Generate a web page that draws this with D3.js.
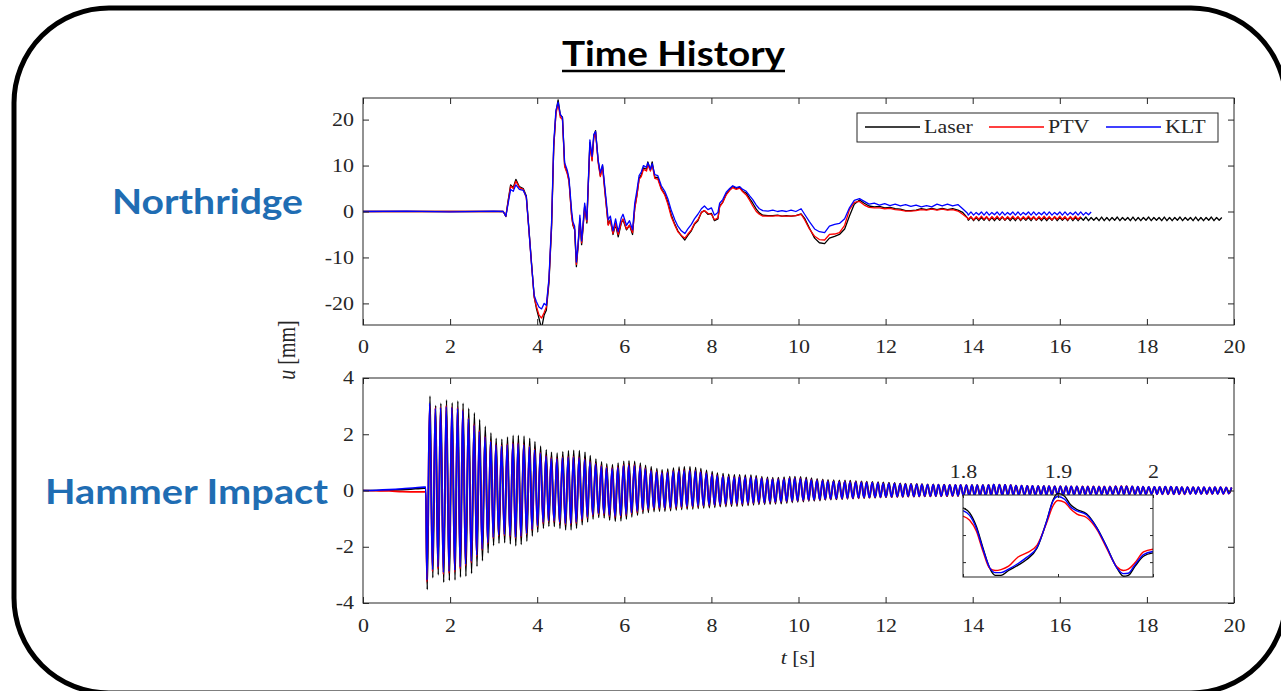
<!DOCTYPE html>
<html>
<head>
<meta charset="utf-8">
<script src="https://cdn.jsdelivr.net/npm/d3@7"></script>
<style>
  body { margin: 0; background: #fff; }
  svg { display: block; }
</style>
</head>
<body>
<svg id="chart" width="1281" height="691"></svg>
<script>
// ---------- Northridge (top panel) ----------
var ndTime = [
  0, 1, 2, 3, 3.22, 3.28, 3.33, 3.39, 3.45, 3.51,
  3.59, 3.68, 3.75, 3.81, 3.87, 3.93, 3.98, 4.04, 4.10, 4.16,
  4.21, 4.27, 4.33, 4.38, 4.43, 4.48, 4.53, 4.58, 4.63, 4.69,
  4.73, 4.79, 4.82, 4.86, 4.90, 4.94, 4.98, 5.02, 5.05, 5.09,
  5.14, 5.21, 5.26, 5.30, 5.34, 5.40, 5.45, 5.50, 5.55, 5.63,
  5.68, 5.74, 5.80, 5.86, 5.93, 5.97, 6.05, 6.12, 6.19, 6.24,
  6.29, 6.34, 6.39, 6.44, 6.51, 6.54, 6.60, 6.64, 6.70, 6.77,
  6.85, 6.93, 7.00, 7.08, 7.16, 7.23, 7.31, 7.39, 7.46, 7.54,
  7.61, 7.69, 7.77, 7.84, 7.92, 8.00, 8.07, 8.15, 8.19, 8.26,
  8.34, 8.42, 8.49, 8.57, 8.65, 8.72, 8.80, 8.88, 8.95, 9.03,
  9.10, 9.18, 9.30, 9.41, 9.52, 9.62, 9.72, 9.83, 9.94, 10.06,
  10.14, 10.25, 10.37, 10.48, 10.60, 10.71, 10.83, 10.94, 11.06, 11.17,
  11.28, 11.40, 11.51, 11.62, 11.74, 11.86, 11.98, 12.10, 12.22, 12.34,
  12.46, 12.58, 12.70, 12.82, 12.94, 13.06, 13.18, 13.30, 13.42, 13.54,
  13.66, 13.77, 13.88
];
var ndLaser = [
  0, 0, 0, 0, 0, -1.1, 2.2, 5.8, 5.2, 7.0,
  5.4, 5.0, 3.4, -3.8, -11.2, -18.5, -21.0, -23.2, -25.5, -22.5,
  -21.5, -15.5, -3.6, 14.0, 21.5, 24.3, 21.0, 20.5, 10.0, 8.5,
  6.8, -0.8, -3.0, -4.0, -12.0, -7.5, -1.8, -7.2, -4.0, 1.2,
  -2.5, 15.0, 11.2, 16.5, 17.6, 11.0, 7.8, 10.0, 5.0, -2.8,
  -1.8, -5.0, -2.8, -5.5, -2.5, -1.8, -4.0, -3.0, -5.0, 0.8,
  3.6, 7.2, 8.0, 9.5, 9.2, 10.8, 9.0, 10.8, 7.4, 7.4,
  5.0, 3.8, 2.0, -0.8, -2.8, -4.2, -5.3, -6.2, -5.2, -4.2,
  -2.8, -2.0, -0.2, 0.2, -0.6, -0.4, -2.0, -1.6, 1.2, 2.0,
  3.8, 4.7, 5.4, 5.0, 5.3, 4.4, 4.0, 2.8, 1.8, 0.5,
  -0.3, -0.8, -0.9, -0.9, -0.8, -1.0, -0.9, -1.0, -0.9, -0.5,
  -1.5, -3.6, -5.8, -6.8, -7.0, -5.8, -5.4, -5.0, -3.8, -1.0,
  1.6, 2.5, 1.8, 1.2, 1.0, 1.1, 0.8, 0.9, 0.6, 0.5,
  0.2, 0.2, 0.3, 0.6, 0.4, 0.7, 0.4, 0.7, 0.4, 0.6,
  0.3, -0.2, -1.4
];
var ndPtv = [
  0, 0, 0, 0, 0, -1.0, 2.0, 5.5, 5.0, 6.6,
  5.2, 4.8, 3.0, -4.2, -11.5, -18.6, -20.6, -22.5, -23.2, -22.0,
  -20.8, -15.0, -3.0, 14.2, 21.2, 23.5, 20.5, 20.0, 9.8, 8.2,
  6.5, -1.0, -2.8, -3.8, -11.5, -7.2, -1.5, -6.8, -3.6, 1.0,
  -2.2, 14.6, 11.0, 16.0, 17.2, 10.6, 7.6, 9.6, 4.6, -3.0,
  -2.0, -4.8, -2.6, -5.0, -2.4, -1.6, -3.8, -3.0, -4.6, 0.6,
  3.4, 7.0, 7.6, 9.2, 8.8, 10.2, 8.8, 10.2, 7.2, 7.0,
  4.8, 3.6, 1.6, -1.2, -3.0, -4.4, -5.2, -5.8, -4.9, -4.0,
  -2.6, -1.8, -0.2, 0.2, -0.4, -0.6, -1.8, -1.4, 1.0, 2.0,
  3.6, 4.6, 5.2, 4.8, 5.1, 4.3, 3.6, 2.4, 1.2, 0.0,
  -0.6, -1.0, -1.0, -1.0, -0.9, -1.0, -1.0, -1.0, -0.9, -0.6,
  -1.8, -3.8, -5.4, -6.1, -6.2, -5.0, -4.9, -4.6, -3.0, 0.4,
  2.0, 2.2, 1.4, 0.9, 0.8, 0.8, 0.6, 0.7, 0.4, 0.3,
  0.1, 0.1, 0.2, 0.4, 0.3, 0.5, 0.3, 0.5, 0.3, 0.4,
  0.1, -0.6, -1.4
];
var ndKlt = [
  0, 0.1, -0.1, 0.1, 0, -1.0, 1.6, 4.8, 4.4, 5.8,
  4.8, 4.6, 3.2, -4.0, -11.6, -18.2, -19.6, -20.8, -21.2, -20.0,
  -20.4, -14.6, -2.4, 15.0, 22.0, 23.8, 21.2, 20.4, 10.6, 9.0,
  7.2, 0.2, -2.2, -3.2, -11.0, -7.0, -0.8, -6.4, -3.0, 1.8,
  -1.8, 15.6, 12.0, 16.8, 17.4, 11.2, 8.4, 10.2, 5.6, -1.8,
  -1.0, -4.2, -1.6, -4.4, -1.4, -0.6, -3.0, -2.0, -4.0, 1.8,
  4.6, 7.8, 8.6, 10.0, 9.6, 10.6, 9.2, 10.4, 8.0, 7.8,
  5.6, 4.4, 2.8, 0.2, -1.8, -3.2, -4.2, -4.8, -3.8, -2.8,
  -1.6, -0.6, 0.6, 1.2, 0.4, 0.8, -0.8, -0.2, 1.8, 2.6,
  4.2, 5.0, 5.6, 5.2, 5.4, 4.8, 4.4, 3.4, 2.6, 1.4,
  0.6, 0.2, 0.1, 0.3, 0.0, 0.2, 0.0, 0.3, 0.0, 0.6,
  -0.6, -2.2, -3.8, -4.4, -4.6, -3.2, -2.8, -2.6, -1.6, 0.8,
  2.4, 2.8, 2.2, 1.6, 1.8, 1.4, 1.7, 1.3, 1.6, 1.2,
  1.5, 1.1, 1.4, 1.0, 1.3, 1.0, 1.6, 1.2, 1.6, 1.2,
  1.5, 0.6, -0.4
];

// residual ripple after 14 s: crest times, then crest / trough values per cycle
var ndTailT = [
  13.96, 14.08, 14.20, 14.32, 14.44, 14.56, 14.68, 14.80, 14.92, 15.04,
  15.16, 15.28, 15.40, 15.52, 15.64, 15.76, 15.88, 16.00, 16.12, 16.24,
  16.36, 16.48, 16.60, 16.72, 16.84, 16.96, 17.08, 17.20, 17.32, 17.44,
  17.56, 17.68, 17.80, 17.92, 18.04, 18.16, 18.28, 18.40, 18.52, 18.64,
  18.76, 18.88, 19.00, 19.12, 19.24, 19.36, 19.48, 19.60, 19.72
];
var ndTailLaserHi = [
  -1.2, -1.3, -1.3, -1.2, -1.3, -1.3, -1.2, -1.3, -1.3, -1.2,
  -1.3, -1.3, -1.2, -1.3, -1.3, -1.3, -1.2, -1.3, -1.3, -1.2,
  -1.3, -1.3, -1.2, -1.3, -1.3, -1.2, -1.3, -1.3, -1.2, -1.3,
  -1.3, -1.2, -1.3, -1.3, -1.2, -1.3, -1.3, -1.2, -1.3, -1.3,
  -1.2, -1.3, -1.3, -1.2, -1.3, -1.3, -1.2, -1.3, -1.3
];
var ndTailLaserLo = [
  -1.9, -2.0, -2.0, -1.9, -2.0, -2.0, -1.9, -1.9, -2.0, -2.0,
  -2.0, -1.9, -2.0, -1.9, -2.0, -2.0, -1.9, -2.0, -1.9, -2.0,
  -2.0, -2.0, -1.9, -2.0, -1.9, -2.0, -2.0, -2.0, -1.9, -2.0,
  -1.9, -2.0, -2.0, -2.0, -1.9, -2.0, -1.9, -2.0, -2.0, -2.0,
  -1.9, -2.0, -1.9, -2.0, -2.0, -2.0, -1.9, -2.0, -1.9
];
var ndTailPtvHi = [
  -1.1, -1.1, -1.0, -1.1, -1.1, -1.0, -1.1, -1.1, -1.0, -1.1,
  -1.1, -1.0, -1.1, -1.1, -1.0, -1.1, -1.1, -1.0, -1.1, -1.1,
  -1.0, -1.1
];
var ndTailPtvLo = [
  -1.7, -1.8, -1.7, -1.7, -1.8, -1.7, -1.7, -1.8, -1.7, -1.7,
  -1.8, -1.7, -1.7, -1.8, -1.7, -1.7, -1.8, -1.7, -1.7, -1.8,
  -1.7, -1.7
];
var ndTailKltHi = [
  -0.1, -0.2, -0.1, -0.1, -0.2, -0.1, -0.1, -0.2, -0.1, -0.1,
  -0.2, -0.1, -0.1, -0.2, -0.1, -0.1, -0.2, -0.1, -0.1, -0.2,
  -0.1, -0.1, -0.2, -0.1
];
var ndTailKltLo = [
  -0.8, -0.8, -0.7, -0.8, -0.8, -0.7, -0.8, -0.8, -0.7, -0.8,
  -0.8, -0.7, -0.8, -0.8, -0.7, -0.8, -0.8, -0.7, -0.8, -0.8,
  -0.7, -0.8, -0.8, -0.7
];

// ---------- Hammer impact (bottom panel) ----------
var hmPreT      = [0, 0.3, 0.6, 0.9, 1.2, 1.40, 1.44];
var hmPreLaser  = [0, 0, 0.01, 0.03, 0.06, 0.08, 0.08];
var hmPrePtv    = [0, -0.01, -0.02, -0.04, -0.05, -0.05, -0.04];
var hmPreKlt    = [0, 0.01, 0.03, 0.06, 0.10, 0.12, 0.12];

// crest time of each cycle; trough values are the ones just before each crest
var hmPeakT = [
  1.53, 1.66, 1.78, 1.91, 2.04, 2.17, 2.29, 2.42, 2.55, 2.67,
  2.80, 2.93, 3.05, 3.18, 3.31, 3.44, 3.56, 3.69, 3.82, 3.94,
  4.07, 4.20, 4.32, 4.45, 4.58, 4.71, 4.83, 4.96, 5.09, 5.21,
  5.34, 5.47, 5.59, 5.72, 5.85, 5.98, 6.10, 6.23, 6.36, 6.48,
  6.61, 6.74, 6.86, 6.99, 7.12, 7.25, 7.37, 7.50, 7.63, 7.75,
  7.88, 8.01, 8.13, 8.26, 8.39, 8.52, 8.64, 8.77, 8.90, 9.02,
  9.15, 9.28, 9.40, 9.53, 9.66, 9.79, 9.91, 10.04, 10.17, 10.29,
  10.42, 10.55, 10.67, 10.80, 10.93, 11.06, 11.18, 11.31, 11.44, 11.56,
  11.69, 11.82, 11.94, 12.07, 12.20, 12.33, 12.45, 12.58, 12.71, 12.83,
  12.96, 13.09, 13.21, 13.34, 13.47, 13.60, 13.72, 13.85, 13.98, 14.10,
  14.23, 14.36, 14.48, 14.61, 14.74, 14.87, 14.99, 15.12, 15.25, 15.37,
  15.50, 15.63, 15.75, 15.88, 16.01, 16.14, 16.26, 16.39, 16.52, 16.64,
  16.77, 16.90, 17.02, 17.15, 17.28, 17.41, 17.53, 17.66, 17.79, 17.91,
  18.04, 18.17, 18.29, 18.42, 18.55, 18.68, 18.80, 18.93, 19.06, 19.18,
  19.31, 19.44, 19.56, 19.69, 19.82, 19.94
];
var hmLaserHi = [
  3.36, 3.02, 3.10, 3.22, 3.12, 3.18, 3.10, 2.92, 2.76, 2.52,
  2.28, 2.05, 1.86, 1.82, 1.90, 1.96, 1.96, 1.94, 1.86, 1.74,
  1.58, 1.45, 1.36, 1.33, 1.38, 1.42, 1.43, 1.42, 1.36, 1.24,
  1.12, 1.02, 0.95, 0.92, 0.98, 1.04, 1.06, 1.04, 0.98, 0.90,
  0.84, 0.78, 0.74, 0.76, 0.80, 0.83, 0.84, 0.84, 0.82, 0.78,
  0.72, 0.67, 0.62, 0.60, 0.58, 0.56, 0.56, 0.55, 0.55, 0.53,
  0.50, 0.48, 0.46, 0.46, 0.48, 0.50, 0.50, 0.49, 0.47, 0.44,
  0.42, 0.40, 0.38, 0.37, 0.36, 0.36, 0.35, 0.34, 0.33, 0.32,
  0.31, 0.30, 0.29, 0.28, 0.27, 0.26, 0.25, 0.24, 0.24, 0.23,
  0.22, 0.22, 0.21, 0.21, 0.20, 0.20, 0.20, 0.19, 0.19, 0.19,
  0.19, 0.20, 0.21, 0.21, 0.20, 0.19, 0.18, 0.17, 0.17, 0.16,
  0.16, 0.16, 0.15, 0.15, 0.15, 0.15, 0.14, 0.14, 0.14, 0.14,
  0.14, 0.13, 0.13, 0.13, 0.14, 0.15, 0.15, 0.14, 0.13, 0.12,
  0.12, 0.12, 0.12, 0.13, 0.13, 0.12, 0.11, 0.11, 0.11, 0.10,
  0.10, 0.10, 0.11, 0.11, 0.10, 0.10
];
var hmLaserLo = [
  -3.52, -3.10, -3.00, -3.26, -3.20, -3.18, -3.08, -3.05, -2.95, -2.70,
  -2.50, -2.22, -1.96, -1.88, -1.86, -1.90, -1.97, -1.92, -1.80, -1.62,
  -1.48, -1.34, -1.27, -1.28, -1.35, -1.40, -1.40, -1.34, -1.22, -1.12,
  -1.02, -0.96, -0.98, -1.06, -1.10, -1.08, -1.02, -0.94, -0.88, -0.82,
  -0.78, -0.75, -0.74, -0.74, -0.72, -0.70, -0.68, -0.67, -0.66, -0.64,
  -0.62, -0.61, -0.60, -0.58, -0.57, -0.56, -0.56, -0.55, -0.53, -0.51,
  -0.50, -0.50, -0.49, -0.48, -0.47, -0.45, -0.43, -0.41, -0.40, -0.38,
  -0.37, -0.36, -0.34, -0.33, -0.32, -0.31, -0.30, -0.29, -0.28, -0.27,
  -0.26, -0.26, -0.25, -0.24, -0.24, -0.23, -0.23, -0.22, -0.22, -0.21,
  -0.21, -0.21, -0.20, -0.20, -0.20, -0.19, -0.19, -0.19, -0.18, -0.18,
  -0.18, -0.18, -0.17, -0.17, -0.17, -0.17, -0.16, -0.16, -0.16, -0.16,
  -0.16, -0.15, -0.15, -0.15, -0.15, -0.15, -0.15, -0.14, -0.14, -0.14,
  -0.14, -0.14, -0.14, -0.14, -0.13, -0.13, -0.13, -0.13, -0.13, -0.13,
  -0.13, -0.12, -0.12, -0.12, -0.12, -0.12, -0.12, -0.12, -0.11, -0.11,
  -0.11, -0.11, -0.11, -0.11, -0.10, -0.10
];
var hmPtvHi = [
  3.05, 2.95, 2.98, 3.02, 2.97, 2.95, 2.86, 2.58, 2.36, 2.14,
  1.93, 1.77, 1.65, 1.61, 1.65, 1.69, 1.69, 1.65, 1.58, 1.47,
  1.35, 1.25, 1.17, 1.15, 1.19, 1.21, 1.21, 1.19, 1.13, 1.05,
  0.97, 0.89, 0.83, 0.81, 0.85, 0.91, 0.93, 0.91, 0.86, 0.79,
  0.72, 0.68, 0.65, 0.66, 0.70, 0.72, 0.73, 0.73, 0.71, 0.68,
  0.62, 0.58, 0.54, 0.52, 0.50, 0.49, 0.49, 0.48, 0.48, 0.46,
  0.44, 0.42, 0.41, 0.41, 0.42, 0.44, 0.44, 0.43, 0.41, 0.39,
  0.37, 0.36, 0.34, 0.33, 0.32, 0.32, 0.31, 0.31, 0.30, 0.29,
  0.28, 0.27, 0.26, 0.25, 0.25, 0.24, 0.23, 0.23, 0.22, 0.22,
  0.21, 0.21, 0.21, 0.20, 0.20, 0.20, 0.20, 0.19, 0.19, 0.19,
  0.19, 0.20, 0.21, 0.21, 0.20, 0.19, 0.18, 0.18, 0.17, 0.17,
  0.16, 0.16, 0.16, 0.15, 0.15, 0.15, 0.15, 0.15, 0.15, 0.15,
  0.15, 0.15, 0.15, 0.15, 0.16, 0.16, 0.16, 0.15, 0.14, 0.14,
  0.13, 0.13, 0.13, 0.14, 0.14, 0.13, 0.12, 0.12, 0.12, 0.12,
  0.12, 0.11, 0.12, 0.12, 0.11, 0.11
];
var hmPtvLo = [
  -3.25, -2.88, -2.78, -2.98, -2.94, -2.90, -2.78, -2.68, -2.57, -2.35,
  -2.12, -1.90, -1.70, -1.62, -1.60, -1.64, -1.70, -1.66, -1.56, -1.42,
  -1.29, -1.17, -1.11, -1.12, -1.17, -1.21, -1.21, -1.16, -1.07, -0.98,
  -0.90, -0.85, -0.86, -0.92, -0.96, -0.94, -0.89, -0.83, -0.78, -0.73,
  -0.69, -0.66, -0.65, -0.65, -0.64, -0.62, -0.61, -0.60, -0.59, -0.58,
  -0.55, -0.54, -0.53, -0.52, -0.51, -0.50, -0.50, -0.49, -0.48, -0.46,
  -0.45, -0.44, -0.43, -0.43, -0.42, -0.40, -0.39, -0.37, -0.36, -0.35,
  -0.34, -0.33, -0.32, -0.31, -0.30, -0.29, -0.28, -0.28, -0.27, -0.26,
  -0.26, -0.25, -0.25, -0.24, -0.24, -0.23, -0.23, -0.22, -0.22, -0.22,
  -0.21, -0.21, -0.21, -0.21, -0.20, -0.20, -0.20, -0.20, -0.19, -0.19,
  -0.19, -0.19, -0.19, -0.18, -0.18, -0.18, -0.18, -0.18, -0.17, -0.17,
  -0.17, -0.17, -0.17, -0.16, -0.16, -0.16, -0.16, -0.16, -0.16, -0.16,
  -0.16, -0.15, -0.15, -0.15, -0.15, -0.15, -0.15, -0.15, -0.15, -0.15,
  -0.15, -0.14, -0.14, -0.14, -0.14, -0.14, -0.14, -0.14, -0.13, -0.13,
  -0.13, -0.13, -0.13, -0.13, -0.13, -0.12
];
var hmKltHi = [
  3.10, 2.92, 2.95, 2.98, 2.95, 2.92, 2.84, 2.55, 2.32, 2.10,
  1.90, 1.74, 1.62, 1.58, 1.62, 1.66, 1.66, 1.62, 1.55, 1.44,
  1.32, 1.22, 1.14, 1.12, 1.16, 1.18, 1.18, 1.16, 1.10, 1.02,
  0.94, 0.86, 0.80, 0.78, 0.82, 0.88, 0.90, 0.88, 0.83, 0.76,
  0.70, 0.66, 0.63, 0.64, 0.68, 0.70, 0.71, 0.71, 0.69, 0.66,
  0.61, 0.57, 0.53, 0.51, 0.49, 0.48, 0.48, 0.47, 0.47, 0.45,
  0.43, 0.41, 0.40, 0.40, 0.41, 0.43, 0.43, 0.42, 0.40, 0.38,
  0.36, 0.35, 0.33, 0.32, 0.31, 0.31, 0.30, 0.30, 0.29, 0.28,
  0.28, 0.27, 0.26, 0.25, 0.25, 0.24, 0.23, 0.23, 0.22, 0.22,
  0.21, 0.21, 0.21, 0.20, 0.20, 0.20, 0.20, 0.19, 0.19, 0.19,
  0.19, 0.20, 0.22, 0.21, 0.20, 0.19, 0.18, 0.18, 0.17, 0.17,
  0.16, 0.16, 0.16, 0.15, 0.15, 0.15, 0.15, 0.15, 0.14, 0.14,
  0.14, 0.14, 0.14, 0.14, 0.15, 0.15, 0.15, 0.15, 0.14, 0.14,
  0.13, 0.13, 0.13, 0.14, 0.14, 0.13, 0.12, 0.12, 0.12, 0.12,
  0.12, 0.11, 0.12, 0.12, 0.11, 0.11
];
var hmKltLo = [
  -3.18, -2.82, -2.72, -2.92, -2.88, -2.84, -2.72, -2.62, -2.52, -2.30,
  -2.08, -1.86, -1.66, -1.58, -1.56, -1.60, -1.66, -1.62, -1.52, -1.38,
  -1.25, -1.13, -1.07, -1.08, -1.13, -1.17, -1.17, -1.12, -1.03, -0.94,
  -0.86, -0.81, -0.82, -0.88, -0.92, -0.90, -0.85, -0.79, -0.74, -0.69,
  -0.66, -0.63, -0.62, -0.62, -0.61, -0.59, -0.58, -0.57, -0.56, -0.55,
  -0.53, -0.52, -0.51, -0.50, -0.49, -0.48, -0.48, -0.47, -0.46, -0.44,
  -0.43, -0.43, -0.42, -0.42, -0.41, -0.39, -0.38, -0.36, -0.35, -0.34,
  -0.33, -0.32, -0.31, -0.30, -0.29, -0.28, -0.27, -0.27, -0.26, -0.25,
  -0.25, -0.24, -0.24, -0.23, -0.23, -0.22, -0.22, -0.21, -0.21, -0.21,
  -0.20, -0.20, -0.20, -0.20, -0.19, -0.19, -0.19, -0.19, -0.18, -0.18,
  -0.18, -0.18, -0.18, -0.17, -0.17, -0.17, -0.17, -0.17, -0.16, -0.16,
  -0.16, -0.16, -0.16, -0.15, -0.15, -0.15, -0.15, -0.15, -0.15, -0.15,
  -0.15, -0.14, -0.14, -0.14, -0.14, -0.14, -0.14, -0.14, -0.14, -0.14,
  -0.14, -0.13, -0.13, -0.13, -0.13, -0.13, -0.13, -0.13, -0.12, -0.12,
  -0.12, -0.12, -0.12, -0.12, -0.12, -0.11
];
var hmLaserLag = 0.008;

// zoomed inset, 1.8 - 2.0 s
var insetT = [
  1.800, 1.807, 1.814, 1.821, 1.828, 1.834, 1.840, 1.848, 1.858, 1.867,
  1.878, 1.888, 1.895, 1.900, 1.907, 1.913, 1.920, 1.930, 1.941, 1.951,
  1.962, 1.969, 1.974, 1.981, 1.990, 2.000
];
var insetLaser = [
  2.01, 1.64, 0.65, -0.95, -2.43, -2.98, -2.98, -2.62, -2.22, -1.81,
  -0.95, 1.02, 2.63, 3.08, 2.87, 2.26, 1.89, 1.57, 0.53, -0.83,
  -2.43, -3.05, -2.98, -2.31, -1.57, -1.32
];
var insetPtv = [
  1.40, 1.10, 0.30, -1.20, -2.45, -2.62, -2.55, -2.30, -1.62, -1.32,
  -0.75, 0.90, 2.20, 2.55, 2.42, 1.95, 1.55, 1.30, 0.40, -0.95,
  -2.35, -2.62, -2.52, -2.05, -1.25, -1.05
];
var insetKlt = [
  1.80, 1.45, 0.50, -1.05, -2.40, -2.78, -2.78, -2.52, -2.10, -1.65,
  -0.90, 1.00, 2.55, 2.85, 2.65, 2.10, 1.78, 1.50, 0.50, -0.85,
  -2.42, -2.85, -2.82, -2.20, -1.45, -1.22
];

var seriesNames = ["Laser", "PTV", "KLT"];
var seriesColors = ["#000000", "#ff0000", "#0000ff"];
var xTicks = [0, 2, 4, 6, 8, 10, 12, 14, 16, 18, 20];
var topYTicks = [-20, -10, 0, 10, 20];
var botYTicks = [-4, -2, 0, 2, 4];
var insetXTicks = [1.8, 1.9, 2];
var insetYTicks = [-2, 0, 2];

// ---------- layout ----------
var svg = d3.select("#chart");
var axisColor = "#262626";
var serif = "'Liberation Serif', 'Times New Roman', serif";
var stretch = 1.22;
var titleBlue = "#1f6db3";
var sans = "Lato, 'Open Sans', sans-serif";

var xScale = d3.scaleLinear().domain([0, 20]).range([363, 1234]);
var yTop = d3.scaleLinear().domain([-24.7, 24.7]).range([325, 98]);
var yBot = d3.scaleLinear().domain([-4, 4]).range([603, 378]);
var xIn = d3.scaleLinear().domain([1.8, 2.0]).range([963, 1153]);
var yIn = d3.scaleLinear().domain([-3.1, 2.96]).range([577, 495]);

svg.append("rect")
  .attr("width", 1281).attr("height", 691).attr("fill", "#fff");

// rounded frame
svg.append("rect")
  .attr("x", 14).attr("y", 8)
  .attr("width", 1272).attr("height", 685)
  .attr("rx", 95)
  .attr("fill", "none")
  .attr("stroke", "#000")
  .attr("stroke-width", 5);

// headings
svg.append("text")
  .attr("x", 562).attr("y", 66)
  .attr("font-family", sans)
  .attr("font-weight", "bold")
  .attr("font-size", 34)
  .attr("textLength", 223)
  .attr("lengthAdjust", "spacingAndGlyphs")
  .text("Time History");
svg.append("line")
  .attr("x1", 562).attr("x2", 785)
  .attr("y1", 71).attr("y2", 71)
  .attr("stroke", "#000").attr("stroke-width", 2.5);

svg.append("text")
  .attr("x", 112).attr("y", 214)
  .attr("font-family", sans)
  .attr("font-weight", "bold")
  .attr("font-size", 35)
  .attr("fill", titleBlue)
  .attr("textLength", 191)
  .attr("lengthAdjust", "spacingAndGlyphs")
  .text("Northridge");

svg.append("text")
  .attr("x", 45).attr("y", 504)
  .attr("font-family", sans)
  .attr("font-weight", "bold")
  .attr("font-size", 35)
  .attr("fill", titleBlue)
  .attr("textLength", 283)
  .attr("lengthAdjust", "spacingAndGlyphs")
  .text("Hammer Impact");

// clip regions
var defs = svg.append("defs");
function addClip(id, y) {
  defs.append("clipPath").attr("id", id)
    .append("rect")
    .attr("x", xScale.range()[0]).attr("y", y.range()[1])
    .attr("width", xScale.range()[1] - xScale.range()[0])
    .attr("height", y.range()[0] - y.range()[1]);
}
addClip("clipTop", yTop);
addClip("clipBot", yBot);

function styleAxis(g) {
  g.select(".domain").remove();
  g.selectAll(".tick line").attr("stroke", axisColor);
  g.selectAll("text")
    .attr("fill", axisColor)
    .attr("font-family", serif)
    .attr("font-size", 18);
}

function drawAxes(y, yTicks, xPad) {
  var top = y.range()[1], bottom = y.range()[0];
  var left = xScale.range()[0], right = xScale.range()[1];
  var fmt = function(d) { return String(d); };

  svg.append("g")
    .attr("transform", `translate(0, ${bottom})`)
    .call(d3.axisBottom(xScale).tickValues(xTicks).tickSizeInner(-6)
      .tickSizeOuter(0).tickPadding(xPad).tickFormat(fmt))
    .call(styleAxis)
    .selectAll("text").attr("transform", `scale(${stretch},1)`);

  svg.append("g")
    .attr("transform", `translate(0, ${top})`)
    .call(d3.axisTop(xScale).tickValues(xTicks).tickSizeInner(-6)
      .tickSizeOuter(0).tickFormat(""))
    .call(styleAxis);

  svg.append("g")
    .attr("transform", `translate(${left}, 0)`)
    .call(d3.axisLeft(y).tickValues(yTicks).tickSizeInner(-6)
      .tickSizeOuter(0).tickFormat(fmt))
    .call(styleAxis)
    .selectAll("text")
      .attr("x", -9 / stretch)
      .attr("transform", `scale(${stretch},1)`);

  svg.append("g")
    .attr("transform", `translate(${right}, 0)`)
    .call(d3.axisRight(y).tickValues(yTicks).tickSizeInner(-6)
      .tickSizeOuter(0).tickFormat(""))
    .call(styleAxis);

  svg.append("rect")
    .attr("x", left).attr("y", top)
    .attr("width", right - left).attr("height", bottom - top)
    .attr("fill", "none")
    .attr("stroke", axisColor)
    .attr("stroke-width", 1);
}

// ---------- top panel ----------
function ndPoints(vals, hi, lo) {
  var pts = ndTime.map(function(t, i) { return [t, vals[i]]; });
  hi.forEach(function(h, k) {
    pts.push([ndTailT[k] - 0.06, lo[k]]);
    pts.push([ndTailT[k], h]);
  });
  return pts;
}

var ndSeries = [
  {name: "Laser", pts: ndPoints(ndLaser, ndTailLaserHi, ndTailLaserLo)},
  {name: "PTV", pts: ndPoints(ndPtv, ndTailPtvHi, ndTailPtvLo)},
  {name: "KLT", pts: ndPoints(ndKlt, ndTailKltHi, ndTailKltLo)}
];
var colorOf = d3.scaleOrdinal().domain(seriesNames).range(seriesColors);

var ndLine = d3.line()
  .x(d => xScale(d[0]))
  .y(d => yTop(d[1]));

svg.append("g")
  .attr("clip-path", "url(#clipTop)")
  .selectAll("path")
  .data(ndSeries)
  .enter()
  .append("path")
    .attr("d", d => ndLine(d.pts))
    .attr("fill", "none")
    .attr("stroke", d => colorOf(d.name))
    .attr("stroke-width", 1.3)
    .attr("stroke-linejoin", "round");

drawAxes(yTop, topYTicks, 15);

// legend
svg.append("rect")
  .attr("x", 857).attr("y", 113)
  .attr("width", 361).attr("height", 29)
  .attr("fill", "#fff")
  .attr("stroke", axisColor)
  .attr("stroke-width", 1);

var legendX = d3.scaleOrdinal().domain(seriesNames).range([865, 989, 1106]);
var legend = svg.selectAll(".legend-item")
  .data(seriesNames)
  .enter()
  .append("g")
    .attr("class", "legend-item")
    .attr("transform", d => `translate(${legendX(d)}, 127)`);
legend.append("line")
  .attr("x1", 0).attr("x2", 55)
  .attr("y1", 0).attr("y2", 0)
  .style("stroke", d => colorOf(d))
  .style("stroke-width", 1.3);
legend.append("text")
  .attr("transform", `translate(59, 6) scale(${stretch},1)`)
  .attr("font-family", serif)
  .attr("font-size", 18)
  .attr("fill", axisColor)
  .text(d => d);

// ---------- bottom panel ----------
function hmPoints(pre, hi, lo, lag) {
  var pts = hmPreT.map(function(t, i) { return [t, pre[i]]; });
  hmPeakT.forEach(function(t, i) {
    var tLo = i === 0 ? t - 0.063 : (hmPeakT[i - 1] + t) / 2;
    pts.push([tLo + lag, lo[i]]);
    pts.push([t + lag, hi[i]]);
  });
  return pts;
}

var hmSeries = [
  {name: "Laser", pts: hmPoints(hmPreLaser, hmLaserHi, hmLaserLo, hmLaserLag)},
  {name: "PTV", pts: hmPoints(hmPrePtv, hmPtvHi, hmPtvLo, 0)},
  {name: "KLT", pts: hmPoints(hmPreKlt, hmKltHi, hmKltLo, 0)}
];

var hmLine = d3.line()
  .x(d => xScale(d[0]))
  .y(d => yBot(d[1]))
  .curve(d3.curveMonotoneX);

svg.append("g")
  .attr("clip-path", "url(#clipBot)")
  .selectAll("path")
  .data(hmSeries)
  .enter()
  .append("path")
    .attr("d", d => hmLine(d.pts))
    .attr("fill", "none")
    .attr("stroke", d => colorOf(d.name))
    .attr("stroke-width", 1.6);

drawAxes(yBot, botYTicks, 16);

// inset
svg.append("rect")
  .attr("x", 963).attr("y", 495)
  .attr("width", 190).attr("height", 82)
  .attr("fill", "#fff");

var insetSeries = [
  {name: "Laser", vals: insetLaser},
  {name: "PTV", vals: insetPtv},
  {name: "KLT", vals: insetKlt}
];
var inLine = d3.line()
  .x((d, i) => xIn(insetT[i]))
  .y(d => yIn(d))
  .curve(d3.curveMonotoneX);

svg.append("g")
  .selectAll("path")
  .data(insetSeries)
  .enter()
  .append("path")
    .attr("d", d => inLine(d.vals))
    .attr("fill", "none")
    .attr("stroke", d => colorOf(d.name))
    .attr("stroke-width", 1.4);

svg.append("g")
  .attr("transform", "translate(0, 495)")
  .call(d3.axisTop(xIn).tickValues(insetXTicks).tickSizeInner(-3)
    .tickSizeOuter(0).tickPadding(17).tickFormat(d => String(d)))
  .call(styleAxis)
  .selectAll("text").attr("transform", `scale(${stretch},1)`);
svg.append("g")
  .attr("transform", "translate(0, 577)")
  .call(d3.axisBottom(xIn).tickValues(insetXTicks).tickSizeInner(-3)
    .tickSizeOuter(0).tickFormat(""))
  .call(styleAxis);
svg.append("g")
  .attr("transform", "translate(963, 0)")
  .call(d3.axisLeft(yIn).tickValues(insetYTicks).tickSizeInner(-3)
    .tickSizeOuter(0).tickFormat(""))
  .call(styleAxis);
svg.append("g")
  .attr("transform", "translate(1153, 0)")
  .call(d3.axisRight(yIn).tickValues(insetYTicks).tickSizeInner(-3)
    .tickSizeOuter(0).tickFormat(""))
  .call(styleAxis);
svg.append("rect")
  .attr("x", 963).attr("y", 495)
  .attr("width", 190).attr("height", 82)
  .attr("fill", "none")
  .attr("stroke", axisColor)
  .attr("stroke-width", 1);

// axis titles
var xLabel = svg.append("text")
  .attr("transform", `translate(798, 664) scale(${stretch},1)`)
  .attr("text-anchor", "middle")
  .attr("font-family", serif)
  .attr("font-size", 18)
  .attr("fill", axisColor);
xLabel.append("tspan").attr("font-style", "italic").text("t");
xLabel.append("tspan").text(" [s]");

var yLabel = svg.append("text")
  .attr("transform", `translate(295, 350) rotate(-90) scale(1, ${stretch})`)
  .attr("text-anchor", "middle")
  .attr("font-family", serif)
  .attr("font-size", 20)
  .attr("fill", axisColor);
yLabel.append("tspan").attr("font-style", "italic").text("u");
yLabel.append("tspan").text(" [mm]");
</script>
</body>
</html>
